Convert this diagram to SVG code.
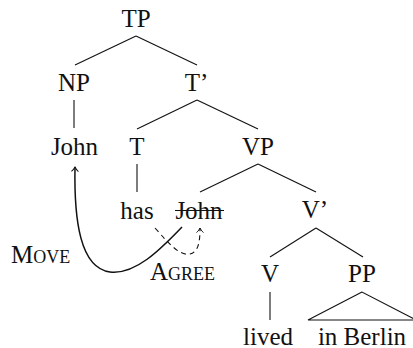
<svg xmlns="http://www.w3.org/2000/svg" width="413" height="348" viewBox="0 0 413 348">
<style>
text{font-family:"Liberation Serif","Times New Roman",serif;font-size:25px;fill:#111;text-anchor:middle}
.l{text-anchor:start}
.sc{font-size:18px}
.e{stroke:#111;stroke-width:1.1;fill:none}
.move{stroke:#111;stroke-width:1.5;fill:none}
.agree{stroke:#111;stroke-width:1.1;fill:none;stroke-dasharray:5 4}
</style>
<defs>
<marker id="ah" markerUnits="userSpaceOnUse" markerWidth="12" markerHeight="12" refX="0" refY="0" viewBox="-6 -6 12 12" orient="auto" overflow="visible">
<path d="M-4.5,-3.5 C-3,-1.5 -1,-0.5 0,0 C-1,0.5 -3,1.5 -4.5,3.5" stroke="#111" stroke-width="1" fill="none"/>
</marker>
</defs>
<g id="connectors">
<line class="e" x1="136" y1="36" x2="75" y2="65"/>
<line class="e" x1="136" y1="36" x2="197" y2="65"/>
<line class="e" x1="74" y1="100" x2="74" y2="128"/>
<line class="e" x1="197" y1="100" x2="137" y2="129"/>
<line class="e" x1="197" y1="100" x2="258" y2="129"/>
<line class="e" x1="137" y1="164" x2="137" y2="192"/>
<line class="e" x1="258" y1="164" x2="200" y2="192"/>
<line class="e" x1="258" y1="164" x2="316" y2="192"/>
<line class="e" x1="316" y1="228" x2="270" y2="257"/>
<line class="e" x1="316" y1="228" x2="363" y2="257"/>
<line class="e" x1="270" y1="292" x2="270" y2="320"/>
<polygon class="e" points="362,292 308,320 416,320"/>
<path class="move" d="M182,227 C160,250 135,275 110,272 C80,268 74,220 75,167" marker-end="url(#ah)"/>
<path class="agree" d="M155,228 C170,245 180,256 190,254 C199,252 200,240 200,228" marker-end="url(#ah)"/>
</g>
<g id="TP"><text x="136" y="27">TP</text></g>
<g id="NP"><text x="74" y="91">NP</text></g>
<g id="Tbar"><text x="196.5" y="91">T’</text></g>
<g id="John"><text x="74.5" y="155">John</text></g>
<g id="T"><text x="137" y="155">T</text></g>
<g id="VP"><text x="258" y="155">VP</text></g>
<g id="has"><text x="137" y="219">has</text></g>
<g id="John-trace"><text x="199" y="219">John</text><line class="e" x1="175" y1="210.5" x2="224" y2="210.5"/></g>
<g id="Vbar"><text x="315" y="218">V’</text></g>
<g id="move-label"><text class="l" x="11" y="263">M<tspan class="sc">OVE</tspan></text></g>
<g id="agree-label"><text class="l" x="150" y="280">A<tspan class="sc">GREE</tspan></text></g>
<g id="V"><text x="270" y="282">V</text></g>
<g id="PP"><text x="362" y="282">PP</text></g>
<g id="lived"><text x="268" y="345">lived</text></g>
<g id="in-Berlin"><text x="362" y="345">in Berlin</text></g>
</svg>
